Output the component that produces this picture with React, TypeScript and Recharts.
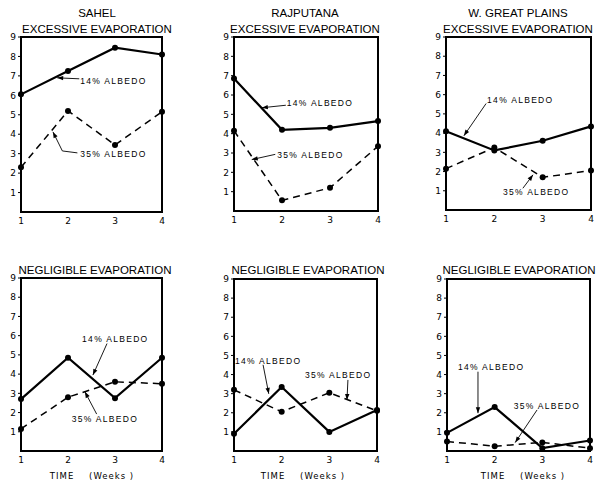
import React from 'react';
import { LineChart, Line, XAxis, YAxis, ReferenceArea, ReferenceLine, ReferenceDot } from 'recharts';

const weeks = [1, 2, 3, 4];
const yTicks = [1, 2, 3, 4, 5, 6, 7, 8, 9];

// evaporation-excess runs
const sahel14 = [6.05, 7.25, 8.45, 8.1];
const sahel35 = [2.3, 5.2, 3.45, 5.15];
const rajputana14 = [6.85, 4.2, 4.3, 4.65];
const rajputana35 = [4.15, 0.55, 1.2, 3.35];
const plains14 = [4.1, 3.1, 3.6, 4.35];
const plains35 = [2.15, 3.25, 1.7, 2.05];

// negligible-evaporation runs
const sahelNeg14 = [2.7, 4.85, 2.75, 4.85];
const sahelNeg35 = [1.15, 2.8, 3.6, 3.5];
const rajputanaNeg14 = [0.9, 3.35, 1.0, 2.15];
const rajputanaNeg35 = [3.2, 2.05, 3.05, 2.1];
const plainsNeg14 = [0.95, 2.3, 0.15, 0.55];
const plainsNeg35 = [0.5, 0.25, 0.45, 0.15];

type Pt = [number, number];

interface Panel {
  title: string[];
  a14: number[];
  a35: number[];
  left: number;
  top: number;
  w: number;
  h: number;
  titleX: number;
  titleY: number;
  label14: Pt;
  label35: Pt;
  lead14: Pt[];
  lead35: Pt[];
  timeX?: number;
}

const panels: Panel[] = [
  {
    title: ['SAHEL', 'EXCESSIVE EVAPORATION'], a14: sahel14, a35: sahel35,
    left: 21, top: 37, w: 141, h: 175, titleX: 97, titleY: 5,
    label14: [2.26, 6.72], label35: [2.26, 2.92],
    lead14: [[2.24, 6.85], [1.77, 6.9]],
    lead35: [[2.2, 3.04], [1.88, 3.14], [1.68, 4.12]],
  },
  {
    title: ['RAJPUTANA', 'EXCESSIVE EVAPORATION'], a14: rajputana14, a35: rajputana35,
    left: 234, top: 37, w: 144, h: 174, titleX: 305, titleY: 5,
    label14: [2.1, 5.55], label35: [1.9, 2.88],
    lead14: [[2.08, 5.47], [1.58, 5.34]],
    lead35: [[1.86, 2.93], [1.37, 2.66]],
  },
  {
    title: ['W. GREAT PLAINS', 'EXCESSIVE EVAPORATION'], a14: plains14, a35: plains35,
    left: 446, top: 37, w: 145, h: 173, titleX: 518, titleY: 5,
    label14: [1.85, 5.66], label35: [2.18, 0.9],
    lead14: [[1.83, 5.54], [1.37, 3.86]],
    lead35: [[2.59, 1.13], [2.8, 1.83]],
  },
  {
    title: ['NEGLIGIBLE EVAPORATION'], a14: sahelNeg14, a35: sahelNeg35,
    left: 21, top: 278, w: 141, h: 173, titleX: 95, titleY: 262,
    label14: [2.3, 5.78], label35: [2.08, 1.65],
    lead14: [[2.83, 5.59], [2.53, 3.95]],
    lead35: [[2.61, 1.92], [2.36, 3.08]],
    timeX: 92,
  },
  {
    title: ['NEGLIGIBLE EVAPORATION'], a14: rajputanaNeg14, a35: rajputanaNeg35,
    left: 234, top: 279, w: 143, h: 172, titleX: 308, titleY: 262,
    label14: [1.02, 4.69], label35: [2.49, 3.95],
    lead14: [[1.61, 4.51], [1.73, 2.99]],
    lead35: [[3.39, 3.72], [3.37, 2.67]],
    timeX: 303,
  },
  {
    title: ['NEGLIGIBLE EVAPORATION'], a14: plainsNeg14, a35: plainsNeg35,
    left: 447, top: 279, w: 143, h: 172, titleX: 519, titleY: 262,
    label14: [1.23, 4.35], label35: [2.4, 2.32],
    lead14: [[1.65, 4.15], [1.65, 1.98]],
    lead35: [[2.89, 2.15], [2.43, 0.44]],
    timeX: 523,
  },
];

const tickStyle = { fill: '#000', fontSize: 9, fontFamily: 'DejaVu Sans' };

const plainSeg = (p: any) => (
  <line x1={p.x1} y1={p.y1} x2={p.x2} y2={p.y2} stroke="#000" strokeWidth={0.9} />
);

const arrowSeg = (p: any) => {
  const { x1, y1, x2, y2 } = p;
  const a = Math.atan2(y2 - y1, x2 - x1);
  const bx = x2 - 6 * Math.cos(a);
  const by = y2 - 6 * Math.sin(a);
  const s = Math.sin(a) * 2.2;
  const c = Math.cos(a) * 2.2;
  return (
    <g>
      <line x1={x1} y1={y1} x2={x2} y2={y2} stroke="#000" strokeWidth={0.9} />
      <polygon points={`${x2},${y2} ${bx + s},${by - c} ${bx - s},${by + c}`} fill="#000" />
    </g>
  );
};

const textShape = (label: string) => (p: any) => (
  <text x={p.cx} y={p.cy} fill="#000" fontSize={8.5} letterSpacing={1.3}
    fontFamily="Liberation Sans" dominantBaseline="middle">{label}</text>
);

function Leader({ pts }: { pts: Pt[] }) {
  return (
    <>
      {pts.slice(1).map((pt, i) => (
        <ReferenceLine key={i}
          segment={[{ x: pts[i][0], y: pts[i][1] }, { x: pt[0], y: pt[1] }]}
          shape={i === pts.length - 2 ? arrowSeg : plainSeg} />
      ))}
    </>
  );
}

function PanelChart({ p }: { p: Panel }) {
  const data = weeks.map((wk, i) => ({ week: wk, a14: p.a14[i], a35: p.a35[i] }));
  return (
    <>
      <div style={{
        position: 'absolute', left: p.titleX - 100, top: p.titleY, width: 200, textAlign: 'center',
        fontFamily: 'Liberation Sans', fontSize: 11.5, lineHeight: '16px', color: '#000',
      }}>
        {p.title.map((t) => <div key={t}>{t}</div>)}
      </div>
      <div style={{ position: 'absolute', left: p.left - 24, top: p.top - 8 }}>
        <LineChart width={p.w + 32} height={p.h + 26} data={data}
          margin={{ top: 8, right: 8, left: 0, bottom: 0 }}>
          <XAxis dataKey="week" type="number" domain={[1, 4]} ticks={weeks} height={18}
            axisLine={false} tickLine={false} tick={tickStyle} tickMargin={0} />
          <YAxis type="number" domain={[0, 9]} ticks={yTicks} width={24} interval={0}
            axisLine={false} tickSize={3} tickLine={{ stroke: '#000' }} tick={tickStyle} />
          <ReferenceArea x1={1} x2={4} y1={0} y2={9} fill="none" stroke="#000" strokeWidth={2} />
          <Leader pts={p.lead14} />
          <Leader pts={p.lead35} />
          <ReferenceDot x={p.label14[0]} y={p.label14[1]} r={1} shape={textShape('14% ALBEDO')} />
          <ReferenceDot x={p.label35[0]} y={p.label35[1]} r={1} shape={textShape('35% ALBEDO')} />
          <Line dataKey="a14" stroke="#000" strokeWidth={2.2} isAnimationActive={false}
            dot={{ r: 3, fill: '#000', stroke: '#000', strokeWidth: 0 }} />
          <Line dataKey="a35" stroke="#000" strokeWidth={1.5} strokeDasharray="7 5" isAnimationActive={false}
            dot={{ r: 3, fill: '#000', stroke: '#000', strokeWidth: 0 }} />
        </LineChart>
      </div>
      {p.timeX !== undefined && (
        <div style={{
          position: 'absolute', left: p.timeX - 60, top: 471, width: 120, textAlign: 'center',
          fontFamily: 'DejaVu Sans', fontSize: 8.5, letterSpacing: 1, whiteSpace: 'pre', color: '#000',
        }}>
          {'TIME    (Weeks )'}
        </div>
      )}
    </>
  );
}

export default function App() {
  return (
    <div style={{ position: 'absolute', left: 0, top: 0, width: 596, height: 483, background: '#fff', overflow: 'hidden' }}>
      {panels.map((p, i) => <PanelChart key={i} p={p} />)}
    </div>
  );
}
